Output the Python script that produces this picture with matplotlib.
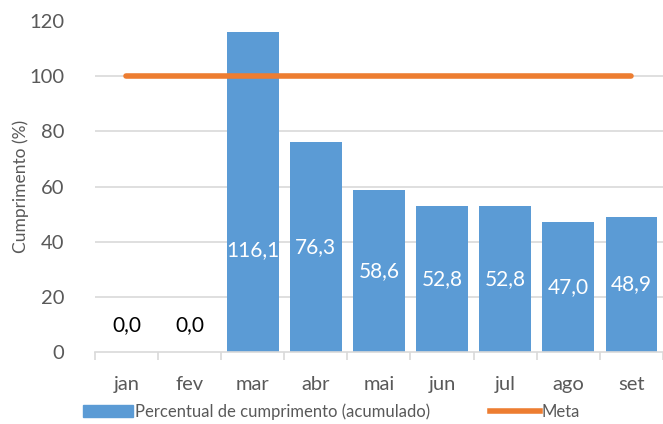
import numpy as np
import matplotlib
matplotlib.use('Agg')
import matplotlib.pyplot as plt
from matplotlib.lines import Line2D
from matplotlib.patches import Patch

plt.rcParams['font.family'] = ['Lato', 'DejaVu Sans']

meses = ['jan', 'fev', 'mar', 'abr', 'mai', 'jun', 'jul', 'ago', 'set']
cumprimento = [0.0, 0.0, 116.1, 76.3, 58.6, 52.8, 52.8, 47.0, 48.9]
meta = [100, 100, 100, 100, 100, 100, 100, 100, 100]

azul = '#5B9BD5'
laranja = '#ED7D31'
cinza = '#595959'

fig = plt.figure(figsize=(6.63, 4.24), dpi=100)
ax = fig.add_axes([0.143, 0.17, 0.857, 0.78])

x = np.arange(len(meses))
ax.bar(x, cumprimento, width=0.82, color=azul, zorder=2)
ax.plot(x, meta, color=laranja, lw=4, solid_capstyle='round', zorder=3)

# data labels
for xi, v in zip(x, cumprimento):
    txt = f'{v:.1f}'.replace('.', ',')
    if v == 0:
        ax.text(xi, 6, txt, ha='center', va='bottom', fontsize=15, color='black')
    else:
        yl = v / 2 if v < 100 else 37
        ax.text(xi, yl, txt, ha='center', va='center', fontsize=15, color='white', zorder=4)

ax.set_xlim(-0.5, len(meses) - 0.5)
ax.set_ylim(0, 120)
ax.set_yticks(np.arange(0, 121, 20))
ax.set_xticks(x)
ax.set_xticklabels(meses)
ax.set_xticks(np.arange(-0.5, len(meses), 1), minor=True)
ax.tick_params(axis='x', which='major', length=0, pad=17, labelsize=14.5, labelcolor=cinza)
ax.tick_params(axis='x', which='minor', length=6, color='#D9D9D9', width=1.2)
ax.tick_params(axis='y', length=0, pad=22, labelsize=14.5, labelcolor=cinza)

for g in [20, 40, 60, 80, 100]:
    ax.axhline(g, color='#D9D9D9', lw=1.2, zorder=1)

for s in ['top', 'right', 'left']:
    ax.spines[s].set_visible(False)
ax.spines['bottom'].set_color('#D9D9D9')
ax.spines['bottom'].set_linewidth(1.2)

ax.set_ylabel('Cumprimento (%)', fontsize=12.5, color=cinza, labelpad=0)

handles = [Patch(color=azul, label='Percentual de cumprimento (acumulado)'),
           Line2D([0], [0], color=laranja, lw=4, label='Meta')]
fig.legend(handles=handles, loc='lower center', bbox_to_anchor=(0.5, -0.025), ncol=2,
           frameon=False, fontsize=12, handlelength=3.0, handletextpad=0.1,
           columnspacing=3.6, labelcolor=cinza)

fig.savefig('out.png', dpi=100)
